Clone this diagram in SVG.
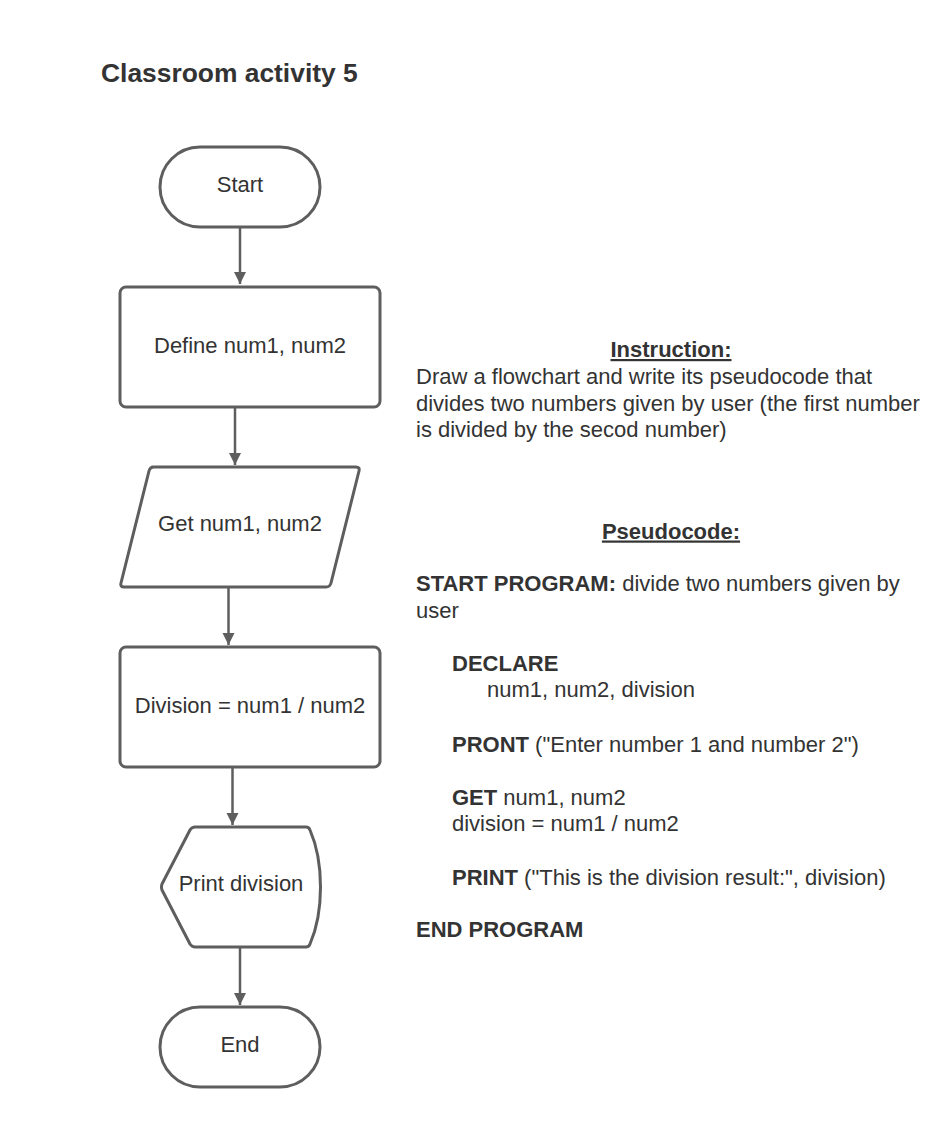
<svg xmlns="http://www.w3.org/2000/svg" width="938" height="1127" viewBox="0 0 938 1127">
<defs>
<style>
.shape{fill:#ffffff;stroke:#5e5e5e;stroke-width:3;stroke-linejoin:round}
.edge{stroke:#5e5e5e;stroke-width:2.5;fill:none}
.lbl{font-family:"Liberation Sans",Arial,sans-serif;font-size:22px;fill:#333333;text-anchor:middle}
.txt{font-family:"Liberation Sans",Arial,sans-serif;font-size:22px;fill:#333333}
.b{font-weight:bold}
.title{font-family:"Liberation Sans",Arial,sans-serif;font-size:26.4px;font-weight:bold;fill:#333333}
</style>
<marker id="arrow" markerUnits="userSpaceOnUse" markerWidth="14" markerHeight="18" refX="12" refY="6" orient="auto">
<path d="M0,0 L12,6 L0,12 Z" fill="#5e5e5e"/>
</marker>
</defs>
<rect width="938" height="1127" fill="#ffffff"/>
<text class="title" x="101" y="82">Classroom activity 5</text>

<g id="connectors">
<line class="edge" x1="240" y1="228" x2="240" y2="284" marker-end="url(#arrow)"/>
<line class="edge" x1="235" y1="408" x2="235" y2="465" marker-end="url(#arrow)"/>
<line class="edge" x1="228.5" y1="588" x2="228.5" y2="645" marker-end="url(#arrow)"/>
<line class="edge" x1="232.5" y1="768" x2="232.5" y2="825" marker-end="url(#arrow)"/>
<line class="edge" x1="240" y1="948" x2="240" y2="1005" marker-end="url(#arrow)"/>
</g>

<g id="start">
<rect class="shape" x="160" y="147" width="160" height="80" rx="40" ry="40"/>
<text class="lbl" x="240" y="192">Start</text>
</g>
<g id="define">
<rect class="shape" x="120" y="287" width="260" height="120" rx="6" ry="6"/>
<text class="lbl" x="250" y="353">Define num1, num2</text>
</g>
<g id="get">
<path class="shape" d="M152,467 L356,467 Q360,467 359,471 L331,583 Q330,587 326,587 L124,587 Q120,587 121,583 L149,471 Q150,467 154,467 Z"/>
<text class="lbl" x="240" y="531">Get num1, num2</text>
</g>
<g id="division">
<rect class="shape" x="120" y="647" width="260" height="120" rx="6" ry="6"/>
<text class="lbl" x="250" y="713">Division = num1 / num2</text>
</g>
<g id="print">
<path class="shape" d="M195,827 L306,827 Q309,827 310,830 C324,862 324,912 310,944 Q309,947 306,947 L195,947 Q192,947 190,944 L162,890 Q161,887 162,884 L190,830 Q192,827 195,827 Z"/>
<text class="lbl" x="241" y="891">Print division</text>
</g>
<g id="end">
<rect class="shape" x="160" y="1007" width="160" height="80" rx="40" ry="40"/>
<text class="lbl" x="240" y="1052">End</text>
</g>

<g id="instruction">
<text class="txt b" x="671" y="357" text-anchor="middle" text-decoration="underline">Instruction:</text>
<text class="txt" x="416" y="384">Draw a flowchart and write its pseudocode that</text>
<text class="txt" x="416" y="410.5">divides two numbers given by user (the first number</text>
<text class="txt" x="416" y="437">is divided by the secod number)</text>
</g>

<g id="pseudocode">
<text class="txt b" x="671" y="538.5" text-anchor="middle" text-decoration="underline">Pseudocode:</text>
<text class="txt" x="416" y="591"><tspan class="b">START PROGRAM:</tspan> divide two numbers given by</text>
<text class="txt" x="416" y="618">user</text>
<text class="txt b" x="452" y="671">DECLARE</text>
<text class="txt" x="487" y="697">num1, num2, division</text>
<text class="txt" x="452" y="751.5"><tspan class="b">PRONT</tspan> ("Enter number 1 and number 2")</text>
<text class="txt" x="452" y="804.5"><tspan class="b">GET</tspan> num1, num2</text>
<text class="txt" x="452" y="831">division = num1 / num2</text>
<text class="txt" x="452" y="884.5"><tspan class="b">PRINT</tspan> ("This is the division result:", division)</text>
<text class="txt b" x="416" y="937">END PROGRAM</text>
</g>
</svg>
